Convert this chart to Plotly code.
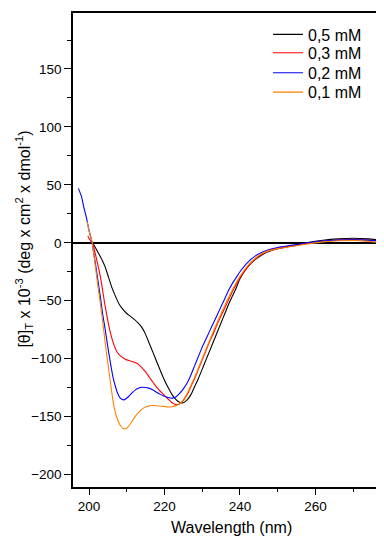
import plotly.graph_objects as go

# ---- data ----
wl_05 = [200.8, 201.5, 202.5, 203.5, 204.3, 205, 206, 207, 208, 209, 210, 211, 212, 213, 214, 215, 216, 217,
         218, 219, 220, 221, 222, 223, 224, 225, 226, 227, 228, 229, 230, 231, 232, 233, 234, 235, 236, 237,
         238, 239, 240, 242, 244, 246, 248, 250, 252, 255, 258, 262, 266, 270, 274, 278.3]
th_05 = [1, -3, -9, -15, -21, -28, -38, -46, -53, -57.5, -61, -63.5, -66, -69, -73, -79, -87, -95,
         -103, -111, -118.5, -125, -131, -135, -137.5, -138, -135.5, -131, -124, -117, -109, -101, -93, -85, -77, -69, -61, -53,
         -46, -39, -31, -21, -14.5, -10, -7, -5.2, -3.8, -2, 0.2, 2.2, 3.4, 3.9, 3.4, 2]

wl_03 = [199.7, 200.1, 200.8, 201.2, 202, 203, 204.3, 205.7, 206.5, 207.4, 208.3, 209.2, 210, 211, 212, 212.7,
         213.8, 214.9, 216, 217.1, 218, 219, 219.8, 221, 222, 223, 224, 225, 226, 227, 228, 229, 230, 231,
         232, 233, 234, 235, 236, 237, 238, 239, 240, 242, 244, 246, 248, 250, 252, 255, 258, 262, 266, 270, 274, 278.3]
th_03 = [6, 3, 0, -3.4, -14, -29, -55, -78, -87, -94, -97.5, -99.6, -101, -102, -103, -104,
         -107, -111, -116, -121, -125, -128.5, -131, -135, -138, -139.5, -139, -136, -131, -124, -117, -109, -101, -93,
         -85, -78, -70, -63, -56, -49, -42, -36, -30, -21, -14, -9.5, -6.5, -4.8, -3.5, -2, -0.3, 1.3, 2.4, 2.8, 2.3, 1]

wl_02 = [197.2, 198, 198.6, 199.3, 199.9, 200.8, 201.7, 202.3, 203, 203.6, 204.3, 205, 205.7, 206.3, 207, 207.6,
         208.3, 209.2, 209.8, 210.5, 211.4, 212.3, 213.2, 214, 215, 215.8, 217, 218, 219, 219.8, 221, 222, 223,
         224, 225, 226, 227, 228, 229, 230, 231, 232, 233, 234, 235, 236, 237, 238, 239, 240, 242, 244, 246,
         248, 250, 252, 255, 258, 262, 266, 270, 274, 278.3]
th_02 = [47, 40, 31, 22, 12.4, 0, -17.8, -31, -46.5, -61, -75, -90, -104, -115, -124, -130,
         -134, -135.5, -134.5, -132.6, -129.5, -126.9, -125.3, -124.6, -124.8, -125.4, -127, -129.2, -131, -132.1, -133.5, -134, -133,
         -130, -126, -121, -114, -106, -98, -90, -83, -76, -69, -62, -55, -48, -41, -35, -30, -25, -17, -11.5, -8,
         -5.5, -4, -3, -1.5, 0, 1.5, 2.3, 2.6, 2.3, 1.3]

wl_01 = [199.5, 200.2, 200.8, 201.7, 202.3, 203, 203.7, 204.3, 205, 205.7, 206.6, 207.3, 207.9, 208.5, 209.2, 210,
         210.5, 211.4, 212.3, 213.4, 214.5, 215.6, 216.7, 218, 219.4, 220, 221, 222, 223, 224, 225, 226, 227,
         228, 229, 230, 231, 232, 233, 234, 235, 236, 237, 238, 239, 240, 242, 244, 246, 248, 250, 252, 255,
         258, 262, 266, 270, 274, 278.3]
th_01 = [18, 8, 1, -20.5, -36, -52, -70, -86.5, -104, -121, -141, -150, -155.3, -158.5, -160.5, -160,
         -158.2, -154, -149.6, -145.5, -142.4, -141, -140.4, -140.6, -141, -141.3, -141.7, -141.5, -140.5, -139, -135.5, -130, -123,
         -116, -108, -100, -92, -84, -76, -68.5, -61, -54, -47, -40.5, -34.5, -29, -20, -13.5, -9, -6.5, -5, -4, -2.5,
         -1, 0.8, 1.8, 2, 1.2, -0.5]

series_names = ["0,5 mM", "0,3 mM", "0,2 mM", "0,1 mM"]
series_wl = [wl_05, wl_03, wl_02, wl_01]
series_th = [th_05, th_03, th_02, th_01]
series_colors = ["#000000", "#ff0000", "#0000ff", "#ff8000"]

x_ticks = [200, 220, 240, 260]
y_ticks = [-200, -150, -100, -50, 0, 50, 100, 150]

FONT = "Arial, Liberation Sans, sans-serif"

fig = go.Figure()
legend_ids = ["legend", "legend2", "legend3", "legend4"]
for name, wl, th, col, lg in zip(series_names, series_wl, series_th, series_colors, legend_ids):
    fig.add_trace(go.Scatter(x=wl, y=th, mode="lines", name=name, legend=lg,
                             line=dict(color=col, width=1.1, shape="spline", smoothing=0.6)))

legend_tops = [0.9905, 0.9519, 0.9097, 0.8688]
legend_style = dict(x=0.627, xanchor="left", yanchor="top",
                    font=dict(family=FONT, size=16, color="black"),
                    bgcolor="rgba(0,0,0,0)", borderwidth=0)

layout_legends = {}
for lg, top in zip(legend_ids, legend_tops):
    layout_legends[lg] = dict(y=top, **legend_style)

fig.update_layout(
    width=376, height=528,
    margin=dict(l=65, r=0, t=5, b=49),
    paper_bgcolor="white", plot_bgcolor="white",
    font=dict(family=FONT, color="black", size=13.5),
    showlegend=True,
    xaxis=dict(range=[195.76, 278.17], tickvals=x_ticks, ticks="outside", ticklen=6, tickwidth=1.3,
               tickcolor="black", showline=True, linecolor="black", linewidth=1.5, mirror=True,
               showgrid=False, zeroline=False,
               minor=dict(dtick=10, tick0=200, ticks="outside", ticklen=3.5, tickwidth=1.3, tickcolor="black", showgrid=False),
               tickfont=dict(size=13.5, family=FONT)),
    yaxis=dict(range=[-210.7, 198.3], tickvals=y_ticks, ticks="outside", ticklen=7, tickwidth=1.3,
               tickcolor="black", showline=True, linecolor="black", linewidth=1.5, mirror=False,
               showgrid=False, zeroline=True, zerolinecolor="black", zerolinewidth=1.6,
               minor=dict(dtick=25, tick0=0, ticks="outside", ticklen=4.5, tickwidth=1.3, tickcolor="black", showgrid=False),
               tickfont=dict(size=13.5, family=FONT)),
    annotations=[
        dict(text="Wavelength (nm)", xref="paper", yref="paper", x=0.510, y=-0.0844,
             xanchor="center", yanchor="middle", showarrow=False, font=dict(size=16, family=FONT)),
        dict(text="[θ]<sub>T</sub> x 10<sup>-3</sup> (deg x cm<sup>2</sup> x dmol<sup>-1</sup>)",
             xref="paper", yref="paper", x=-0.156, y=0.523, textangle=-90,
             xanchor="center", yanchor="middle", showarrow=False, font=dict(size=16, family=FONT)),
    ],
    **layout_legends,
)

fig.write_html("out.html")
